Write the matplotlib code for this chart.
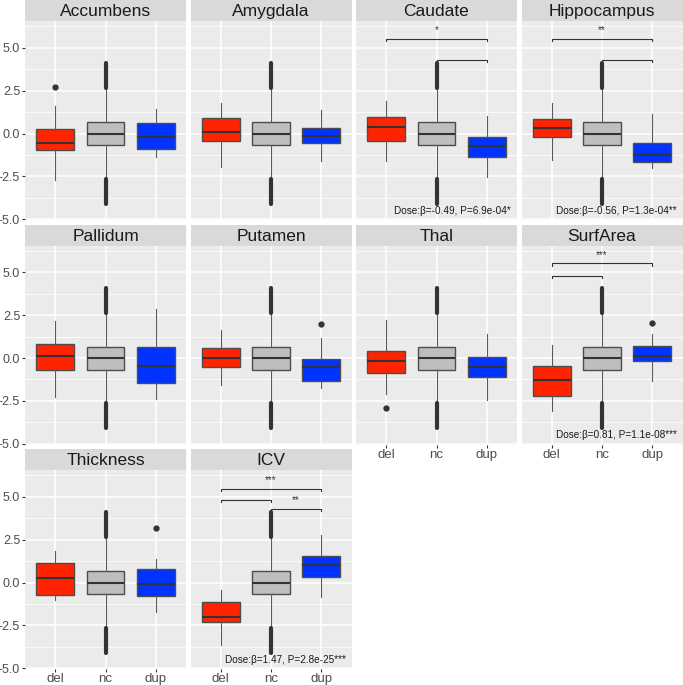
import matplotlib
matplotlib.use("Agg")
import matplotlib.pyplot as plt

plt.rcParams["font.family"] = ["Liberation Sans", "DejaVu Sans"]

panels = ["Accumbens", "Amygdala", "Caudate", "Hippocampus", "Pallidum",
          "Putamen", "Thal", "SurfArea", "Thickness", "ICV"]
groups = ["del", "nc", "dup"]
colors = ["#FF2400", "#BEBEBE", "#0033FF"]

# whisker low, q1, median, q3, whisker high
del_stats = [
    [-2.73, -0.94, -0.58, 0.29, 1.60],
    [-1.95, -0.43, 0.08, 0.88, 1.81],
    [-1.60, -0.43, 0.39, 0.96, 1.91],
    [-1.52, -0.23, 0.35, 0.84, 1.79],
    [-2.28, -0.68, 0.12, 0.80, 2.16],
    [-1.60, -0.53, 0.02, 0.58, 1.62],
    [-2.12, -0.90, -0.18, 0.43, 2.20],
    [-3.08, -2.22, -1.29, -0.47, 0.74],
    [-1.01, -0.72, 0.25, 1.12, 1.84],
    [-3.66, -2.33, -2.00, -1.16, -0.43],
]
dup_stats = [
    [-1.40, -0.88, -0.19, 0.62, 1.46],
    [-1.60, -0.58, -0.16, 0.35, 1.36],
    [-2.53, -1.36, -0.72, -0.18, 1.03],
    [-2.00, -1.68, -1.23, -0.53, 1.13],
    [-2.38, -1.44, -0.49, 0.64, 2.88],
    [-1.73, -1.33, -0.55, -0.06, 1.19],
    [-2.48, -1.09, -0.53, 0.04, 1.38],
    [-1.35, -0.16, 0.12, 0.70, 1.42],
    [-1.74, -0.76, -0.10, 0.79, 1.38],
    [-0.87, 0.35, 1.03, 1.55, 2.77],
]
# controls are standardised, same in every panel
nc_stats = [-2.63, -0.69, 0.0, 0.67, 2.63]
nc_outlier_bands = [(-4.09, -2.63), (2.63, 4.09)]

del_fliers = [[2.69], [], [], [], [], [], [-2.90], [], [], []]
dup_fliers = [[], [], [], [], [], [1.97], [], [2.03], [3.16], []]

# (group a, group b, y, label)
brackets = {
    2: [(1, 3, 5.52, "*"), (2, 3, 4.31, "")],
    3: [(1, 3, 5.52, "**"), (2, 3, 4.31, "")],
    7: [(1, 3, 5.52, "***"), (1, 2, 4.80, "")],
    9: [(1, 3, 5.48, "***"), (1, 2, 4.81, ""), (2, 3, 4.30, "**")],
}
dose_text = {
    2: "Dose:β=-0.49, P=6.9e-04*",
    3: "Dose:β=-0.56, P=1.3e-04**",
    7: "Dose:β=0.81, P=1.1e-08***",
    9: "Dose:β=1.47, P=2.8e-25***",
}

yticks = [-5.0, -2.5, 0.0, 2.5, 5.0]
yminor = [-3.75, -1.25, 1.25, 3.75, 6.25]

W, H = 683, 685
fig = plt.figure(figsize=(W / 100, H / 100), dpi=100)
fig.patch.set_facecolor("white")

col_left = [25, 190.5, 356, 521.5]
panel_w = 161
row_top = [0, 224.5, 449]
strip_h = 21
panel_h = 199

# panels with x labels (bottom of each column)
bottom_panels = {8, 9, 6, 7}


def to_fig(x, y, w, h):
    return [x / W, 1 - (y + h) / H, w / W, h / H]


edge = "#4D4D4D"

for i, name in enumerate(panels):
    r, c = divmod(i, 4)
    x0 = col_left[c]
    y0 = row_top[r]

    sax = fig.add_axes(to_fig(x0, y0, panel_w, strip_h))
    sax.set_facecolor("#D9D9D9")
    sax.set_xticks([])
    sax.set_yticks([])
    for s in sax.spines.values():
        s.set_visible(False)
    sax.text(0.5, 0.45, name, ha="center", va="center", fontsize=12.5,
             color="#1A1A1A", transform=sax.transAxes)

    ax = fig.add_axes(to_fig(x0, y0 + strip_h, panel_w, panel_h))
    ax.set_facecolor("#EBEBEB")
    for s in ax.spines.values():
        s.set_visible(False)
    ax.set_xlim(0.4, 3.6)
    ax.set_ylim(-5.05, 6.57)
    for y in yminor:
        ax.axhline(y, color="white", lw=0.55, zorder=0)
    for y in yticks:
        ax.axhline(y, color="white", lw=1.1, zorder=0)
    for x in [1, 2, 3]:
        ax.axvline(x, color="white", lw=1.1, zorder=0)

    stats = []
    for g, vals, fl in [(0, del_stats[i], del_fliers[i]),
                        (1, nc_stats, []),
                        (2, dup_stats[i], dup_fliers[i])]:
        stats.append(dict(whislo=vals[0], q1=vals[1], med=vals[2],
                          q3=vals[3], whishi=vals[4], fliers=fl))
    bp = ax.bxp(stats, positions=[1, 2, 3], widths=0.75, patch_artist=True,
                showcaps=False,
                boxprops=dict(edgecolor=edge, linewidth=1.0),
                whiskerprops=dict(color="#5A5A5A", linewidth=0.8),
                medianprops=dict(color="#333333", linewidth=1.5),
                flierprops=dict(marker="o", markersize=3.5,
                                markerfacecolor="#333333",
                                markeredgecolor="#333333"))
    for patch, col in zip(bp["boxes"], colors):
        patch.set_facecolor(col)

    for lo, hi in nc_outlier_bands:
        ax.plot([2, 2], [lo, hi], color="#333333", lw=3.0,
                solid_capstyle="round", zorder=3)

    for a, b, y, lab in brackets.get(i, []):
        ax.plot([a, a, b, b], [y - 0.12, y, y, y - 0.12], color="#333333",
                lw=0.8)
        if lab:
            ax.text((a + b) / 2, y + 0.2, lab, ha="center", va="bottom",
                    fontsize=7, color="#333333")

    if i in dose_text:
        ax.text(3.48, -4.5, dose_text[i], ha="right", va="center",
                fontsize=7.2, color="#1A1A1A")

    if c == 0:
        ax.set_yticks(yticks)
        ax.set_yticklabels([f"{v:.1f}" for v in yticks])
        ax.tick_params(axis="y", length=2.5, width=0.8, color="#333333",
                       labelsize=9, labelcolor="#4D4D4D", pad=1)
    else:
        ax.set_yticks([])

    if i in bottom_panels:
        ax.set_xticks([1, 2, 3])
        ax.set_xticklabels(groups)
        ax.tick_params(axis="x", length=2.5, width=0.8, color="#333333",
                       labelsize=9.5, labelcolor="#4D4D4D", pad=0.5)
    else:
        ax.set_xticks([])

fig.savefig("out.png", dpi=100)
